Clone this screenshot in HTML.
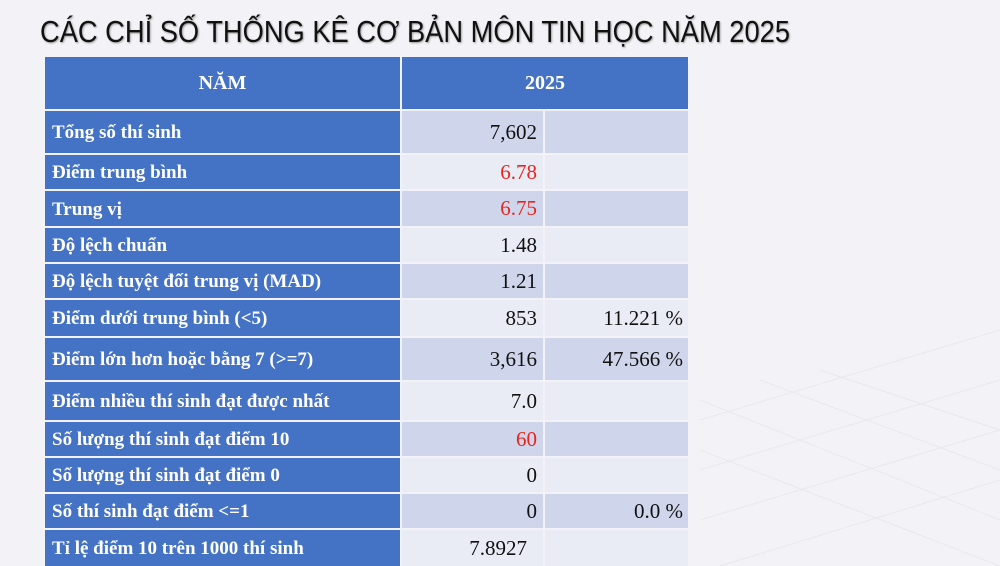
<!DOCTYPE html>
<html><head><meta charset="utf-8"><style>
body{margin:0;width:1000px;height:566px;overflow:hidden;background:#f3f2f6;position:relative;font-family:"Liberation Serif",serif;}
.c{position:absolute;box-sizing:border-box;display:flex;align-items:center;}
.l{left:45px;width:355px;background:#4472c4;color:#fff;font-weight:bold;font-size:19px;padding-left:7px;padding-top:1px;line-height:1;}
.v{left:402px;width:141px;justify-content:flex-end;padding-right:6px;font-size:21px;color:#111;}
.p{left:545px;width:143px;justify-content:flex-end;padding-right:5px;font-size:21px;color:#111;}
.d{background:#cfd5ea}.w{background:#e9ebf5}
.r{color:#e8251d}
</style></head><body>
<svg width="1000" height="566" style="position:absolute;left:0;top:0">
<g stroke="#e8e8ee" stroke-width="1" fill="none">
<path d="M700 420 L1000 330 M700 470 L1000 380 M700 520 L1000 430 M720 566 L1000 480 M700 400 L1000 520 M700 450 L1000 566 M760 380 L1000 470 M820 370 L1000 430"/>
</g>
<text x="40" y="42" font-family="Liberation Sans, DejaVu Sans, sans-serif" font-size="31" fill="#111" textLength="750" lengthAdjust="spacingAndGlyphs" style="text-shadow:1px 1px 2px #999">CÁC CHỈ SỐ THỐNG KÊ CƠ BẢN MÔN TIN HỌC NĂM 2025</text>
</svg>
<div class="c l" style="top:57px;height:52px;justify-content:center;padding:0;font-size:20px">NĂM</div>
<div class="c" style="top:57px;height:52px;left:402px;width:286px;background:#4472c4;color:#fff;font-weight:bold;font-size:20px;justify-content:center;">2025</div>

<div class="c l" style="top:111px;height:42px">Tổng số thí sinh</div><div class="c v d" style="top:111px;height:42px">7,602</div><div class="c p d" style="top:111px;height:42px"></div>
<div class="c l" style="top:155px;height:34px">Điểm trung bình</div><div class="c v w r" style="top:155px;height:34px">6.78</div><div class="c p w" style="top:155px;height:34px"></div>
<div class="c l" style="top:191px;height:35px">Trung vị</div><div class="c v d r" style="top:191px;height:35px">6.75</div><div class="c p d" style="top:191px;height:35px"></div>
<div class="c l" style="top:228px;height:34px">Độ lệch chuẩn</div><div class="c v w" style="top:228px;height:34px">1.48</div><div class="c p w" style="top:228px;height:34px"></div>
<div class="c l" style="top:264px;height:34px">Độ lệch tuyệt đối trung vị (MAD)</div><div class="c v d" style="top:264px;height:34px">1.21</div><div class="c p d" style="top:264px;height:34px"></div>
<div class="c l" style="top:300px;height:36px">Điểm dưới trung bình (&lt;5)</div><div class="c v w" style="top:300px;height:36px">853</div><div class="c p w" style="top:300px;height:36px">11.221 %</div>
<div class="c l" style="top:338px;height:42px">Điểm lớn hơn hoặc bằng 7 (&gt;=7)</div><div class="c v d" style="top:338px;height:42px">3,616</div><div class="c p d" style="top:338px;height:42px">47.566 %</div>
<div class="c l" style="top:382px;height:38px">Điểm nhiều thí sinh đạt được nhất</div><div class="c v w" style="top:382px;height:38px">7.0</div><div class="c p w" style="top:382px;height:38px"></div>
<div class="c l" style="top:422px;height:34px">Số lượng thí sinh đạt điểm 10</div><div class="c v d r" style="top:422px;height:34px">60</div><div class="c p d" style="top:422px;height:34px"></div>
<div class="c l" style="top:458px;height:34px">Số lượng thí sinh đạt điểm 0</div><div class="c v w" style="top:458px;height:34px">0</div><div class="c p w" style="top:458px;height:34px"></div>
<div class="c l" style="top:494px;height:34px">Số thí sinh đạt điểm &lt;=1</div><div class="c v d" style="top:494px;height:34px">0</div><div class="c p d" style="top:494px;height:34px">0.0 %</div>
<div class="c l" style="top:530px;height:36px">Tỉ lệ điểm 10 trên 1000 thí sinh</div><div class="c v w" style="top:530px;height:36px;padding-right:16px">7.8927</div><div class="c p w" style="top:530px;height:36px"></div>
</body></html>
